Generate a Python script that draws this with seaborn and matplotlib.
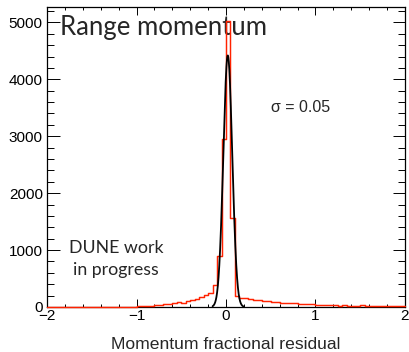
import numpy as np
import pandas as pd
import matplotlib
matplotlib.use("Agg")
import matplotlib.pyplot as plt
import seaborn as sns
from matplotlib.ticker import MultipleLocator

# ---------------- data ----------------
x_min, x_max = -2.0, 2.0
bin_width = 0.05
# counts per 0.05 bin from -2 to 2 (80 bins)
counts_neg_far = [0, 0, 0, 0, 0, 0, 0, 0, 0, 0, 0, 1, 0, 1, 1, 2, 1, 2, 3, 4]
counts_neg_near = [10, 14, 18, 22, 30, 38, 45, 55, 70, 80,
                   72, 100, 120, 145, 170, 205, 240, 380, 900, 2960]
counts_pos_near = [5020, 1560, 200, 160, 150, 140, 125, 115, 105, 100,
                   95, 85, 78, 72, 68, 62, 58, 52, 48, 45]
counts_pos_far = [42, 30, 35, 28, 30, 26, 28, 24, 26, 22,
                  28, 20, 22, 25, 18, 20, 16, 18, 14, 12]
counts = counts_neg_far + counts_neg_near + counts_pos_near + counts_pos_far

# Gaussian fit parameters
fit_amplitude = 4420.0
fit_mean = 0.02
fit_sigma = 0.05
fit_range = (-0.15, 0.20)

x_ticks = [-2, -1, 0, 1, 2]
y_ticks = [0, 1000, 2000, 3000, 4000, 5000]
title_text = "Range momentum"
sigma_text = "σ = 0.05"
prelim_lines = ["DUNE work", "in progress"]
x_label = "Momentum fractional residual"

hist_color = "#ff2200"
fit_color = "black"

# ---------------- build ----------------
n_bins = int(round((x_max - x_min) / bin_width))
centers = x_min + bin_width * (np.arange(n_bins) + 0.5)
df = pd.DataFrame({"residual": centers, "count": counts})

fx = np.linspace(fit_range[0], fit_range[1], 300)
fy = fit_amplitude * np.exp(-0.5 * ((fx - fit_mean) / fit_sigma) ** 2)
fit_df = pd.DataFrame({"x": fx, "y": fy})

sns.set_style("ticks")
plt.rcParams['font.family'] = ['Liberation Sans', 'DejaVu Sans']

W, H = 410, 352
fig = plt.figure(figsize=(W / 100, H / 100), dpi=100)
L, R, T, B = 47, 405, 7, 307
ax = fig.add_axes([L / W, (H - B) / H, (R - L) / W, (B - T) / H])

sns.histplot(data=df, x="residual", weights="count", binwidth=bin_width,
             binrange=(x_min, x_max),
             element="step", fill=False, color=hist_color, linewidth=1.05, ax=ax)
sns.lineplot(data=fit_df, x="x", y="y", color=fit_color, linewidth=1.3, ax=ax)
for ln in ax.lines:
    ln.set_clip_on(False)
    ln.set_zorder(5)

ax.set_xlim(x_min, x_max)
ax.set_ylim(0, max(counts) * 1.05)
ax.set_xticks(x_ticks)
ax.set_yticks(y_ticks)
ax.xaxis.set_minor_locator(MultipleLocator(0.2))
ax.yaxis.set_minor_locator(MultipleLocator(200))
ax.set_xlabel("")
ax.set_ylabel("")

for s in ax.spines.values():
    s.set_visible(True)
    s.set_linewidth(0.9)
    s.set_color("black")

ax.tick_params(axis="both", which="both", direction="in", top=True, right=True,
               width=0.7, colors="black", labelsize=11)
ax.tick_params(axis="x", which="major", length=5.5, pad=1.5)
ax.tick_params(axis="x", which="minor", length=2.5)
ax.tick_params(axis="y", which="major", length=9, pad=3)
ax.tick_params(axis="y", which="minor", length=4.8)

# texts
ax.text((60 - L) / (R - L), (B - 35) / (B - T), title_text, transform=ax.transAxes,
        ha="left", va="baseline", fontsize=18.5, family=["Lato", "DejaVu Sans"])
ax.text((301 - L) / (R - L), (B - 108) / (B - T), sigma_text, transform=ax.transAxes,
        ha="center", va="center", fontsize=11.5)
ax.text((116 - L) / (R - L), (B - 253) / (B - T), prelim_lines[0], transform=ax.transAxes,
        ha="center", va="baseline", fontsize=12.8, family=["Lato", "DejaVu Sans"])
ax.text((116 - L) / (R - L), (B - 275) / (B - T), prelim_lines[1], transform=ax.transAxes,
        ha="center", va="baseline", fontsize=12.8, family=["Lato", "DejaVu Sans"])
fig.text(226 / W, 1 - 349 / H, x_label, ha="center", va="baseline", fontsize=12.6)

fig.savefig("out.png", dpi=100)
